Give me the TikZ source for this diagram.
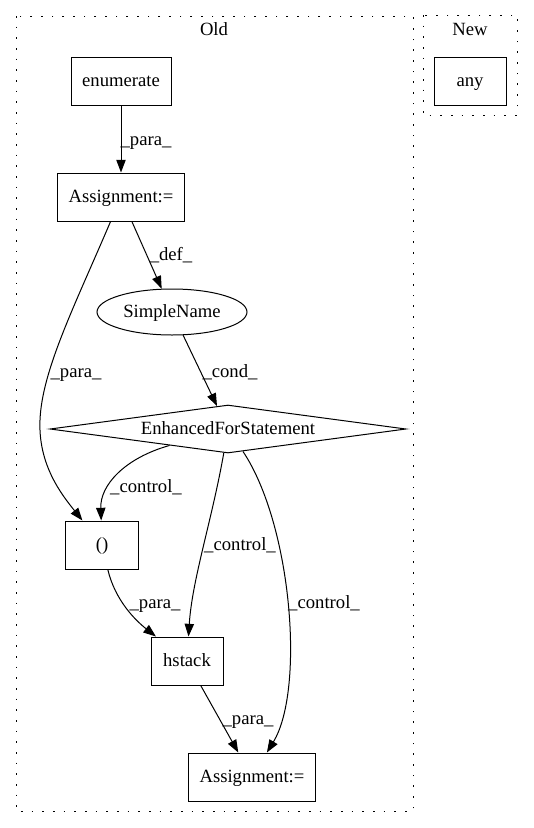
\documentclass[tikz,border=0pt]{standalone}
\usepackage{fontspec}
\setmainfont{Liberation Serif}
\usetikzlibrary{arrows.meta,shapes.geometric}
\begin{document}
\begin{tikzpicture}[x=0.75pt,y=-0.75pt,
  every node/.style={font=\fontsize{14pt}{16pt}\selectfont},
  shaped/.style={draw, line width=0.75pt, inner sep=0pt, text height=10pt, text depth=1.4pt},
  box/.style={shaped, rectangle, minimum height=36pt},
  oval/.style={shaped, ellipse, minimum width=112.5pt, minimum height=34.5pt},
  rhombus/.style={shaped, diamond, aspect=7.4, minimum width=267pt, minimum height=36pt},
  flow/.style={draw, line width=0.75pt, -{Triangle[length=9.5pt,width=7pt]}},
  lbl/.style={inner sep=0pt, anchor=base},
  cluster/.style={draw, line width=0.75pt, dash pattern=on 1.2pt off 6.8pt}
]
\useasboundingbox (0,0) rectangle (533,828);

% clusters
\draw[cluster] (16,16) rectangle (413,811);
\draw[cluster] (423,15) rectangle (517,115);
\node[lbl] (oldt) at (214,35) {Old};
\node[lbl] (newt) at (470,35) {New};

% nodes
\node[box, minimum width=75pt] (enum) at (121,81) {enumerate};
\node[box, minimum width=95pt] (a1) at (121,197) {Assignment:=};
\node[oval] (sn) at (172,312) {SimpleName};
\node[rhombus] (dia) at (228,429) {EnhancedForStatement};
\node[box, minimum width=55pt] (paren) at (102,545) {()};
\node[box, minimum width=54pt] (hs) at (187,661) {hstack};
\node[box, minimum width=95pt] (a2) at (252,777) {Assignment:=};
\node[box, minimum width=54pt] (any) at (470,81) {any};

% connectors
\draw[flow] (enum) -- (a1);
\draw[flow] (a1) -- (sn);
\draw[flow] (sn) -- (dia);
\coordinate (bend) at (40,420);
\draw[flow] (a1) .. controls (75,305) and (42,370) .. (bend)
                 .. controls (38,465) and (62,495) .. (paren);
\draw[flow] (dia) .. controls (125,458) and (100,485) .. (paren);
\draw[flow] (dia) .. controls (212,520) and (192,580) .. (hs);
\draw[flow] (dia) .. controls (292,525) and (305,690) .. (a2);
\draw[flow] (paren) .. controls (115,600) and (135,620) .. (hs);
\draw[flow] (hs) -- (a2);

% connector labels (placed on their baselines)
\node[lbl] (l1) at (146,145) {\_para\_};
\node[lbl] (l2) at (171,260) {\_def\_};
\node[lbl] (l3) at (76,377) {\_para\_};
\node[lbl] (l4) at (230,377) {\_cond\_};
\node[lbl] (l5) at (146,492) {\_control\_};
\node[lbl] (l6) at (240,550) {\_control\_};
\node[lbl] (l7) at (324,608) {\_control\_};
\node[lbl] (l8) at (155,608) {\_para\_};
\node[lbl] (l9) at (248,724) {\_para\_};
\end{tikzpicture}
\end{document}
